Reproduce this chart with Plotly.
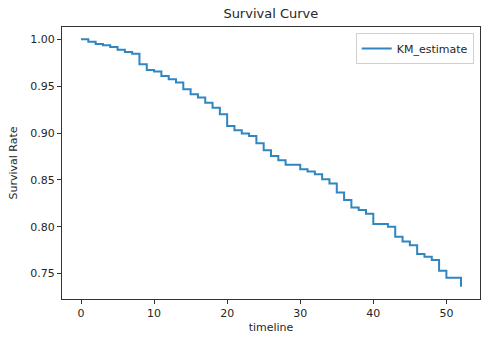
import plotly.graph_objects as go

timeline = [0, 1, 2, 3, 4, 5, 6, 7, 8, 9, 10, 11, 12, 13, 14, 15, 16, 17, 18, 19,
            20, 21, 22, 23, 24, 25, 26, 27, 28, 30, 31, 32, 33, 34, 35, 36, 37, 38,
            39, 40, 42, 43, 44, 45, 46, 47, 48, 49, 50, 52]
km_estimate = [1.0000, 0.9975, 0.9950, 0.9938, 0.9918, 0.9888, 0.9866, 0.9847, 0.9733, 0.9672,
               0.9658, 0.9609, 0.9574, 0.9540, 0.9467, 0.9414, 0.9378, 0.9324, 0.9271, 0.9200,
               0.9076, 0.9030, 0.8994, 0.8969, 0.8891, 0.8817, 0.8756, 0.8710, 0.8660, 0.8614,
               0.8589, 0.8560, 0.8507, 0.8460, 0.8365, 0.8284, 0.8205, 0.8177, 0.8137, 0.8030,
               0.7999, 0.7893, 0.7842, 0.7802, 0.7708, 0.7680, 0.7644, 0.7530, 0.7455, 0.7360]

fig = go.Figure()
fig.add_trace(go.Scatter(
    x=timeline, y=km_estimate, mode="lines", name="KM_estimate",
    line=dict(color="#2f86c0", width=2, shape="hv"),
))

axis_common = dict(
    showgrid=False, zeroline=False, showline=True, linecolor="#333333", linewidth=1,
    mirror=True, ticks="outside", ticklen=4, tickcolor="#333333",
    tickfont=dict(family="DejaVu Sans", size=11, color="#262626"),
    title_font=dict(family="DejaVu Sans", size=11, color="#262626"),
)

fig.update_layout(
    width=488, height=350,
    margin=dict(l=62, r=8, t=27, b=51),
    paper_bgcolor="white", plot_bgcolor="white",
    title=dict(text="Survival Curve", x=0.555, xanchor="center", y=0.962, yanchor="middle",
               font=dict(family="DejaVu Sans", size=13, color="#262626")),
    xaxis=dict(range=[-2.6, 54.6], dtick=10, tick0=0,
               title=dict(text="timeline", standoff=4), **axis_common),
    yaxis=dict(range=[0.7228, 1.0132], dtick=0.05, tick0=0.75, tickformat=".2f",
               title=dict(text="Survival Rate", standoff=10), **axis_common),
    showlegend=True,
    legend=dict(x=0.985, xanchor="right", y=0.978, yanchor="top",
                bgcolor="white", bordercolor="#d0d0d0", borderwidth=1,
                font=dict(family="DejaVu Sans", size=11, color="#262626"),
                itemwidth=30),
)

fig.write_html("out.html")
